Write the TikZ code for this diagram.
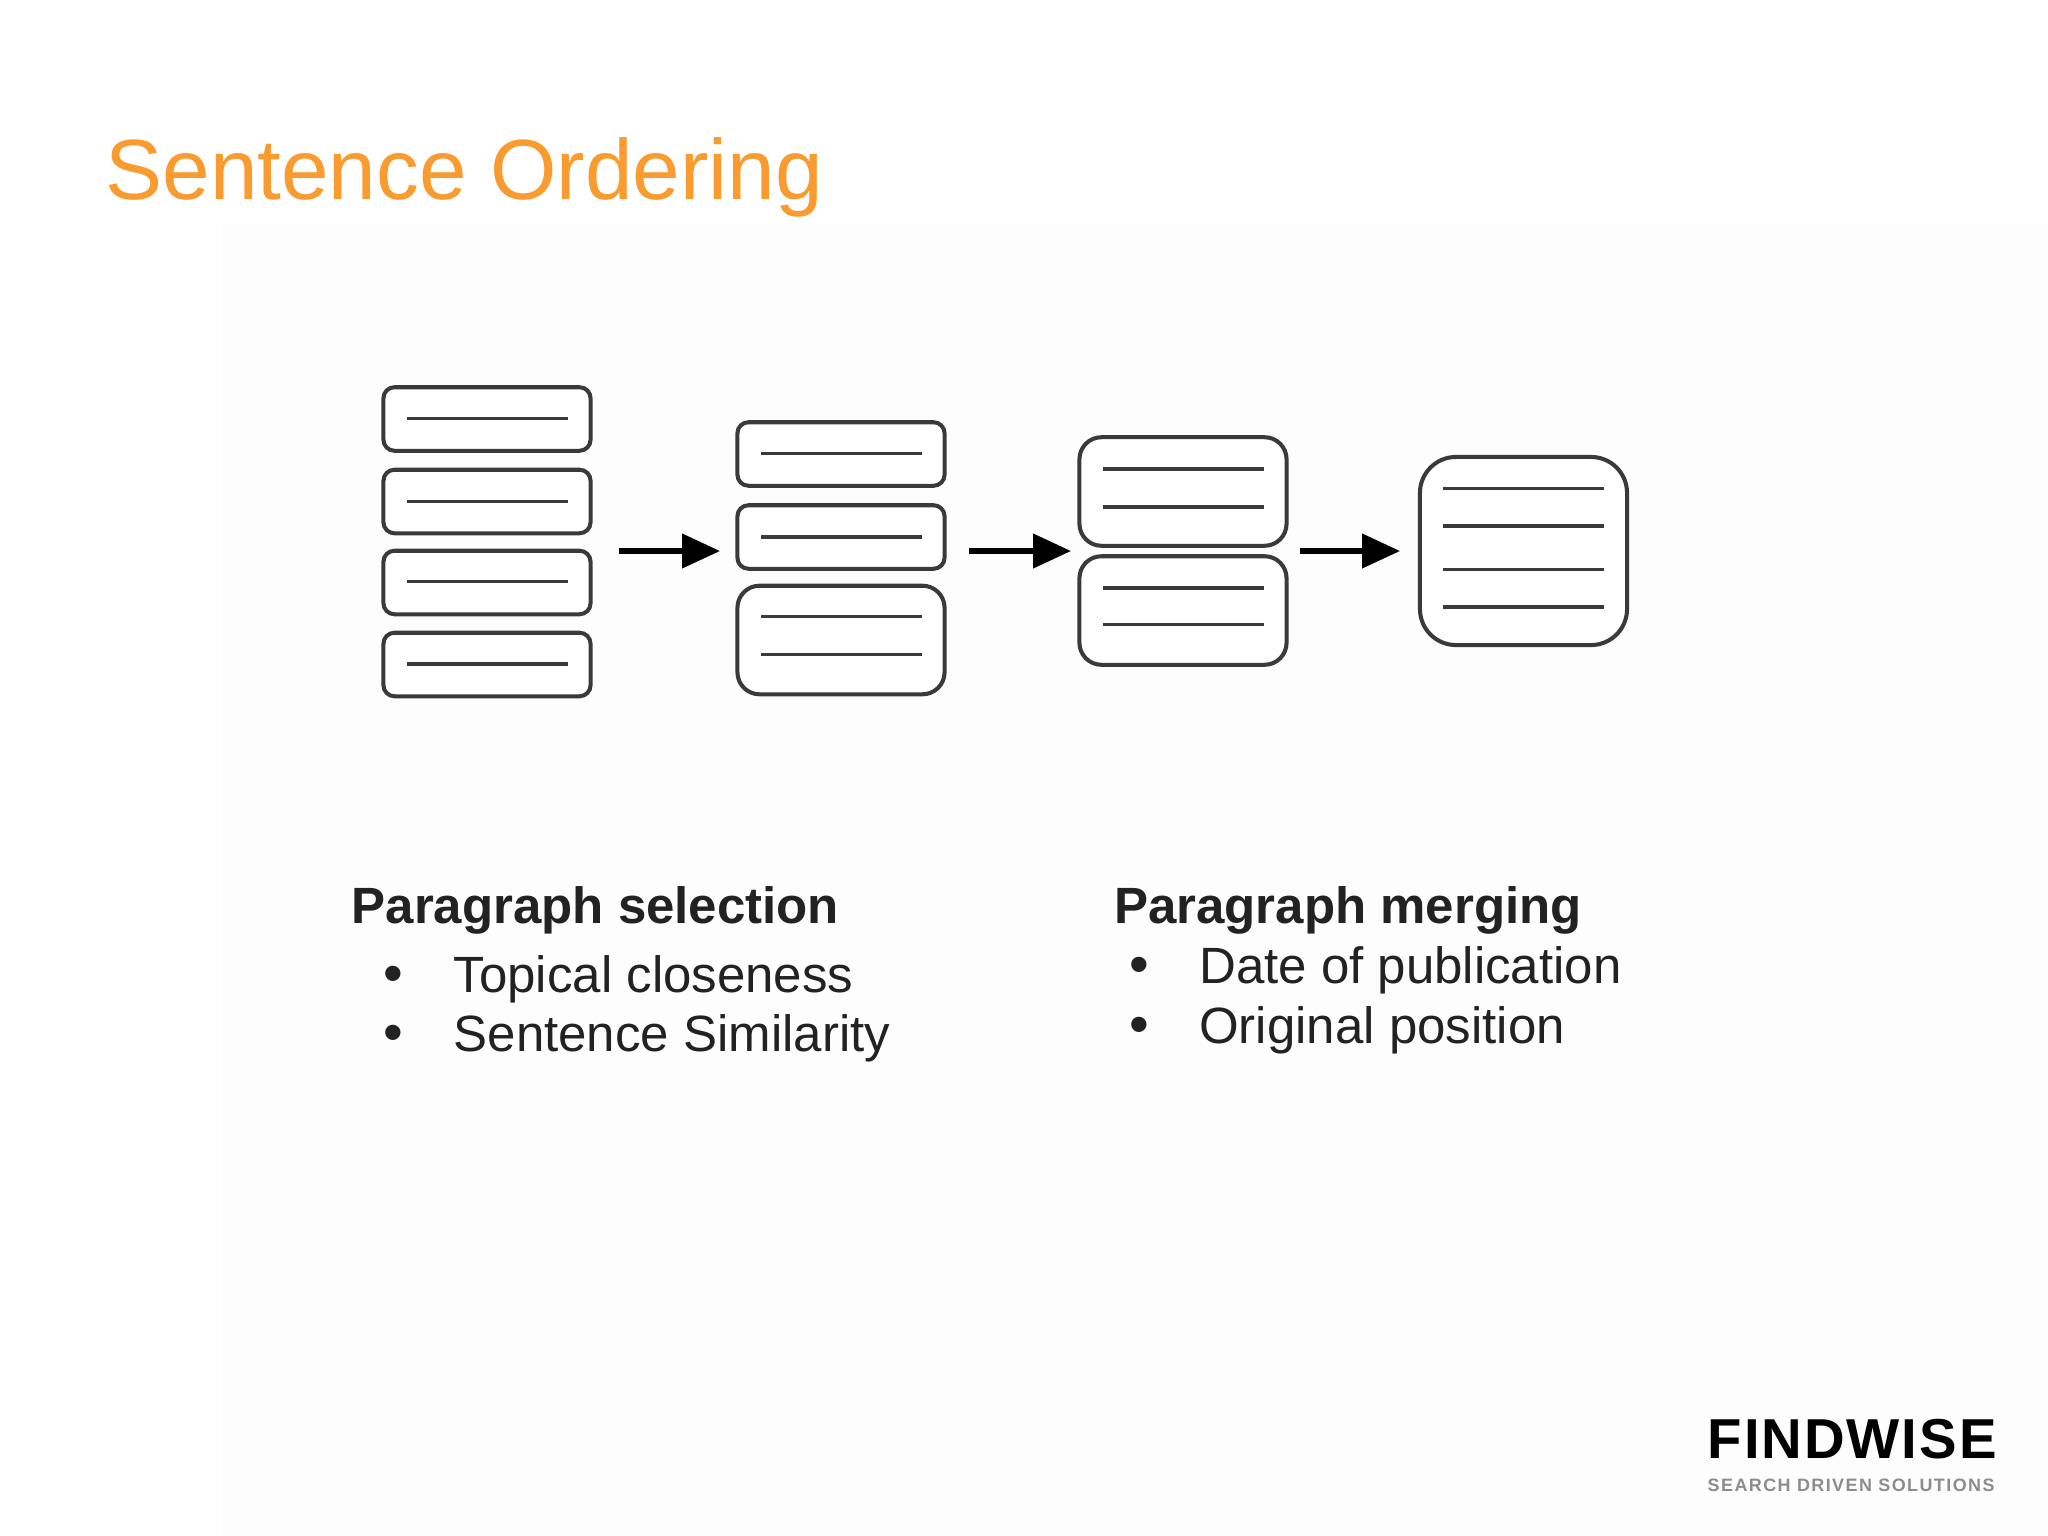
\documentclass[tikz,border=0pt]{standalone}
\usepackage{fontspec}
\setmainfont{Liberation Sans}
\newfontfamily\logofont[LetterSpace=3.5]{Liberation Sans}
\newfontfamily\sublogofont[LetterSpace=8]{Liberation Sans}
\usetikzlibrary{arrows.meta}
\definecolor{titleorange}{HTML}{F99B2F}
\definecolor{ink}{HTML}{3A3A3A}
\definecolor{bodyink}{HTML}{222222}
\definecolor{paper}{HTML}{FEFDFE}
\tikzset{
  boxbase/.style={draw=ink,line width=1.15pt,fill=white,minimum width=2.07cm,inner sep=0pt},
  small/.style={boxbase,minimum height=0.635cm,rounded corners=0.11cm},
  medium/.style={boxbase,minimum height=1.085cm,rounded corners=0.22cm},
  large/.style={boxbase,minimum height=1.88cm,rounded corners=0.36cm},
  textline/.style={draw=ink,line width=1.0pt},
  flow/.style={draw=black,line width=1.45pt,-{Triangle[length=10.8pt,width=9.6pt]}},
  lbl/.style={anchor=base west,inner sep=0pt,text=bodyink,font=\fontsize{14.5pt}{17pt}\selectfont},
  head/.style={lbl,font=\fontsize{14.5pt}{17pt}\selectfont\bfseries},
  bul/.style={anchor=base,inner sep=0pt,text=bodyink,font=\fontsize{16pt}{17pt}\selectfont}
}
\begin{document}
\begin{tikzpicture}[x=0.01cm,y=-0.01cm]
\useasboundingbox (0,0) rectangle (2048,1536);
\fill[white] (0,0) rectangle (2048,1536);
\fill[paper] (222,225) rectangle (2048,1536);
\node[lbl,anchor=base west,text=titleorange,font=\fontsize{24.3pt}{29pt}\selectfont] (title) at (105,199) {Sentence Ordering};
% column 1
\node[small] (a1) at (487,419) {};
\node[small] (a2) at (487,501.5) {};
\node[small] (a3) at (487,582.5) {};
\node[small] (a4) at (487,664.5) {};
\foreach \yy in {418.5,501.5,581.5,664} \draw[textline] (407,\yy) -- (568,\yy);
% column 2
\node[small] (b1) at (841,454) {};
\node[small] (b2) at (841,537) {};
\node[medium] (b3) at (841,640) {};
\foreach \yy in {453.5,537,616.5,654.5} \draw[textline] (761,\yy) -- (922,\yy);
% column 3
\node[medium] (c1) at (1183,491.5) {};
\node[medium] (c2) at (1183,610.5) {};
\foreach \yy in {469,507,588,624.5} \draw[textline] (1103,\yy) -- (1264,\yy);
% column 4
\node[large] (d1) at (1523.5,551) {};
\foreach \yy in {488.5,526,569.5,607} \draw[textline] (1443,\yy) -- (1604,\yy);
% arrows
\coordinate (s1) at (619,551); \coordinate (e1) at (720,551);
\coordinate (s2) at (969,551); \coordinate (e2) at (1071,551);
\coordinate (s3) at (1300,551); \coordinate (e3) at (1400,551);
\draw[flow] (s1) -- (e1);
\draw[flow] (s2) -- (e2);
\draw[flow] (s3) -- (e3);
% text
\node[head] (h1) at (351,923) {Paragraph selection};
\node[bul] (p1) at (393,992) {•};
\node[lbl] (t1) at (453,992) {Topical closeness};
\node[bul] (p2) at (393,1051.5) {•};
\node[lbl] (t2) at (453,1051.5) {Sentence Similarity};
\node[head] (h2) at (1113.5,923) {Paragraph merging};
\node[bul] (p3) at (1139,983) {•};
\node[lbl] (t3) at (1198.5,983) {Date of publication};
\node[bul] (p4) at (1139,1043) {•};
\node[lbl] (t4) at (1198.5,1043) {Original position};
% logo
\node[anchor=base west,inner sep=0pt,text=black,font=\logofont\bfseries\fontsize{16pt}{18pt}\selectfont] (logo) at (1707,1458) {FINDWISE};
\node[anchor=base west,inner sep=0pt,text=black!45,font=\sublogofont\bfseries\fontsize{5.1pt}{6pt}\selectfont] (tag) at (1707,1491) {SEARCH DRIVEN SOLUTIONS};
\end{tikzpicture}
\end{document}
